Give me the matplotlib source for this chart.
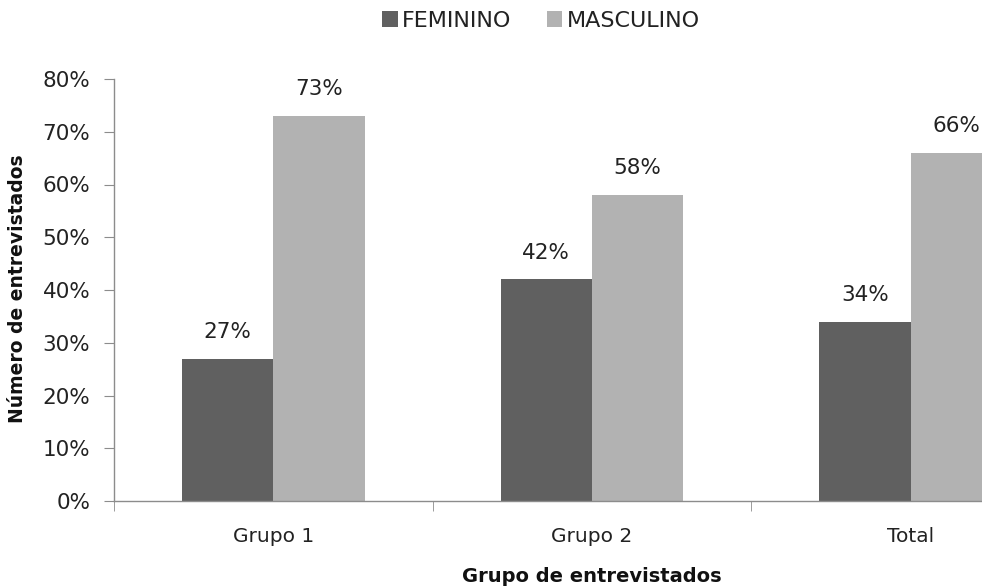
import matplotlib
matplotlib.use("Agg")
import matplotlib.pyplot as plt
import numpy as np
from matplotlib.ticker import FuncFormatter, MultipleLocator, FixedLocator

plt.rcParams['font.family'] = ['DejaVu Sans']

categories = ["Grupo 1", "Grupo 2", "Total"]
feminino = [27, 42, 34]
masculino = [73, 58, 66]
series_names = ["FEMININO", "MASCULINO"]
colors = ["#606060", "#b2b2b2"]

W, H = 982, 588
ax_left, ax_right, ax_bottom, ax_top = 114, 1070, 501, 79

fig = plt.figure(figsize=(W / 100, H / 100), dpi=100)
ax = fig.add_axes([ax_left / W, 1 - ax_bottom / H,
                   (ax_right - ax_left) / W, (ax_bottom - ax_top) / H])

x = np.arange(len(categories))
w = 0.287
b1 = ax.bar(x - w / 2, feminino, w, color=colors[0], label=series_names[0])
b2 = ax.bar(x + w / 2, masculino, w, color=colors[1], label=series_names[1])

for bars, vals in ((b1, feminino), (b2, masculino)):
    for rect, v in zip(bars, vals):
        ax.annotate(f"{v}%", (rect.get_x() + rect.get_width() / 2, v),
                    xytext=(0, 12), textcoords="offset points",
                    ha="center", va="bottom", fontsize=15.5, color="#222222")

ax.set_xlim(-0.5, len(categories) - 0.5)
ax.set_ylim(0, 80)
ax.yaxis.set_major_locator(MultipleLocator(10))
ax.yaxis.set_major_formatter(FuncFormatter(lambda v, p: f"{v:.0f}%"))

ax.set_xticks(x)
ax.set_xticklabels(categories)
ax.xaxis.set_minor_locator(FixedLocator(np.arange(-0.5, len(categories), 1.0)))
ax.tick_params(axis="x", which="major", length=0, pad=19, labelsize=14.5, labelcolor="#222222")
ax.tick_params(axis="x", which="minor", length=7, color="#8c8c8c", direction="out")
ax.tick_params(axis="y", length=7, color="#8c8c8c", labelsize=15.5, labelcolor="#222222", pad=10)

for side in ("top", "right"):
    ax.spines[side].set_visible(False)
for side in ("left", "bottom"):
    ax.spines[side].set_color("#8c8c8c")
    ax.spines[side].set_linewidth(1.0)

ax.set_ylabel("Número de entrevistados", fontsize=13.5, fontweight="bold", color="#111111")
ax.yaxis.set_label_coords((18 - ax_left) / (ax_right - ax_left), (ax_bottom - 289) / (ax_bottom - ax_top))
ax.yaxis.label.set_va("center")
ax.set_xlabel("Grupo de entrevistados", fontsize=14, fontweight="bold", color="#111111")
ax.xaxis.set_label_coords((592 - ax_left) / (ax_right - ax_left), (ax_bottom - 577) / (ax_bottom - ax_top))
ax.xaxis.label.set_va("center")

fig.legend(handles=[b1, b2], labels=series_names, loc="center",
           bbox_to_anchor=(541 / W, 1 - 21 / H),
           ncol=2, frameon=False, fontsize=16, handlelength=0.7, handleheight=0.7,
           handletextpad=0.2, columnspacing=1.6, labelcolor="#222222")

fig.savefig("out.png", dpi=100, facecolor="white")
